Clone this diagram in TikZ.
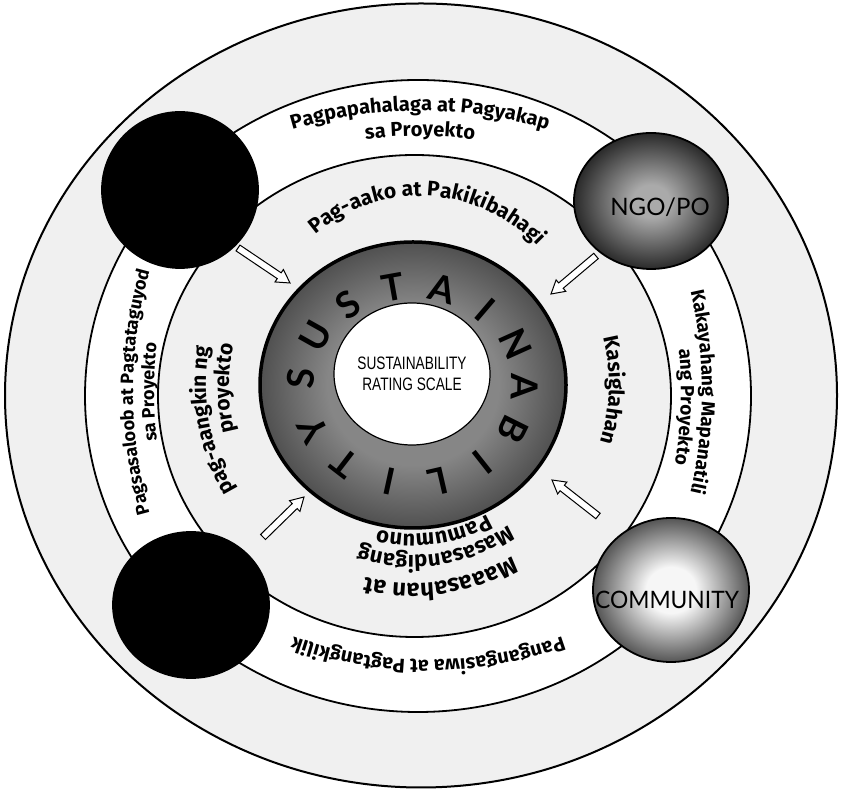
\documentclass[tikz,border=0pt]{standalone}
\usepackage{fontspec}
\setmainfont{Liberation Sans}
\newfontfamily\curvefont{Fira Sans}
\newfontfamily\gillfont{Lato}
\usetikzlibrary{calc,decorations.text,shapes.geometric}
\definecolor{bgfill}{HTML}{F0F0F0}
\definecolor{ngoin}{HTML}{AAAAAA}
\definecolor{ngoout}{HTML}{2A2A2A}
\definecolor{comin}{HTML}{F6F6F6}
\definecolor{comout}{HTML}{555555}
\definecolor{diskin}{HTML}{868686}
\definecolor{diskout}{HTML}{505050}
\pgfdeclareradialshading{ngoshade}{\pgfpoint{0bp}{0bp}}{color(0bp)=(ngoin); color(6bp)=(ngoin); color(25bp)=(ngoout); color(50bp)=(ngoout)}
\pgfdeclareradialshading{comshade}{\pgfpoint{0bp}{0bp}}{color(0bp)=(comin); color(8bp)=(comin); color(25bp)=(comout); color(50bp)=(comout)}
\pgfdeclareradialshading{diskshade}{\pgfpoint{0bp}{0bp}}{color(0bp)=(diskin); color(14bp)=(diskin); color(25bp)=(diskout); color(50bp)=(diskout)}
\newcommand\outerfont{\curvefont\bfseries\fontsize{20}{20}\selectfont}
\newcommand\sidefont{\curvefont\bfseries\fontsize{18}{18}\selectfont}
\newcommand\rightfont{\curvefont\bfseries\fontsize{19}{19}\selectfont}
\newcommand\innerfont{\curvefont\bfseries\fontsize{21}{21}\selectfont}
\newcommand\midfont{\curvefont\bfseries\fontsize{22}{22}\selectfont}
\newcommand\bigfont{\curvefont\bfseries\fontsize{24}{24}\selectfont}
\newcommand\hollowarr[2]{%
  \coordinate (hb) at ($(#2)!13pt!(#1)$);
  \draw[arrowbody] ($(#1)!3.5pt!90:(#2)$) -- ($(hb)!3.5pt!90:(#2)$) -- ($(hb)!7.5pt!90:(#2)$)
    -- (#2) -- ($(hb)!7.5pt!-90:(#2)$) -- ($(hb)!3.5pt!-90:(#2)$) -- ($(#1)!3.5pt!-90:(#2)$) -- cycle;}
\begin{document}
\begin{tikzpicture}[x=1pt,y=1pt,
  bandline/.style={line width=1.8pt},
  ball/.style={ellipse, draw=black, line width=1.8pt, inner sep=0pt},
  arrowbody/.style={draw=black, line width=1pt, fill=white, line join=miter},
  ringletter/.style={font=\gillfont\bfseries\fontsize{37}{37}\selectfont, inner sep=0pt},
  balltext/.style={font=\gillfont\fontsize{24}{24}\selectfont, inner sep=0pt},
  curvetext/.style={decorate, decoration={text along path, text align=center, text={#1}}}]
\useasboundingbox (0,0) rectangle (842,791);
\fill[white] (0,0) rectangle (842,791);
% rings
\coordinate (bigc) at (421,395.5);
\draw[line width=2pt, fill=bgfill] (bigc) ellipse [x radius=416pt, y radius=392pt];
\coordinate (bandc) at (418,395);
\draw[bandline, fill=white] (bandc) ellipse [x radius=333pt, y radius=316pt];
\coordinate (innerc) at (414.5,395);
\draw[bandline, fill=bgfill] (innerc) ellipse [x radius=256.5pt, y radius=241pt];
% centres for curved text
\coordinate (ctop) at (420,230);
\coordinate (cleft) at (583,399);
\coordinate (cright) at (255,399);
\coordinate (cbot) at (428,529);
\coordinate (core) at (413,406);
\coordinate (ctopin) at (420,433);
% outer band texts
\path[curvetext={|\outerfont|Pagpapahalaga at Pagyakap}] (ctop) ++(135:450pt) arc[start angle=135, end angle=45, radius=450pt];
\path[curvetext={|\outerfont|sa Proyekto}] (ctop) ++(135:425pt) arc[start angle=135, end angle=45, radius=425pt];
\path[curvetext={|\sidefont|Pagsasaloob at Pagtataguyod}] (cleft) ++(218:450pt) arc[start angle=218, end angle=142, radius=450pt];
\path[curvetext={|\sidefont|sa Proyekto}] (cleft) ++(218:429pt) arc[start angle=218, end angle=142, radius=429pt];
\path[curvetext={|\rightfont|Kakayahang Mapanatili}] (cright) ++(38:447pt) arc[start angle=38, end angle=-38, radius=447pt];
\path[curvetext={|\rightfont|ang Proyekto}] (cright) ++(36:426pt) arc[start angle=36, end angle=-40, radius=426pt];
\path[curvetext={|\outerfont|Pangangasiwa at Pagtangkilik}] (cbot) ++(-35:398pt) arc[start angle=-35, end angle=-145, radius=398pt];
% central disk
\node[ball, line width=3.5pt, shading=diskshade, minimum width=306pt, minimum height=286pt] (disk) at (core) {};
\node[ball, line width=1.2pt, fill=white, minimum width=156pt, minimum height=142pt] (scale) at (412,417) {};
\node[font=\fontsize{18}{21}\selectfont, align=center, xscale=0.76] (scaletext) at (scale) {SUSTAINABILITY\\RATING SCALE};
\foreach \l [count=\i] in {S,U,S,T,A,I,N,A,B,I,L,I,T,Y} {
  \pgfmathsetmacro\a{176-25.3*(\i-1)}
  \node[ringletter, rotate=\a-90] (ring\i) at ($(core)+({112*cos(\a)},{99*sin(\a)})$) {\l};
}
% inner ring texts
\path[curvetext={|\innerfont|Pag-aako at Pakikibahagi}] (ctopin) ++(167:162pt) arc[start angle=167, end angle=7, radius=162pt];
\path[curvetext={|\innerfont|Kasiglahan}] (core) ++(60:196pt) arc[start angle=60, end angle=-63, radius=196pt];
\path[curvetext={|\innerfont|pag-aangkin ng}] (core) ++(250:207pt) arc[start angle=250, end angle=130, radius=207pt];
\path[curvetext={|\innerfont|proyekto}] (core) ++(241:184pt) arc[start angle=241, end angle=121, radius=184pt];
\path[curvetext={|\midfont|Pamumuno}] (core) ++(-22:149pt) arc[start angle=-22, end angle=-142, radius=149pt];
\path[curvetext={|\midfont|Masasandigang}] (core) ++(-22:170pt) arc[start angle=-22, end angle=-142, radius=170pt];
\path[curvetext={|\bigfont|Maaasahan at}] (core) ++(-22:198pt) arc[start angle=-22, end angle=-142, radius=198pt];
% stakeholder spheres
\node[ball, fill=black, minimum width=156pt, minimum height=156pt] (lgu) at (180,601) {};
\node[ball, fill=black, minimum width=156pt, minimum height=146pt] (bl) at (191,186) {};
\node[ball, shading=ngoshade, minimum width=154pt, minimum height=136pt] (ngo) at (651,590) {};
\node[balltext] (ngotext) at (660,584) {NGO/PO};
\node[ball, shading=comshade, minimum width=156pt, minimum height=144pt] (com) at (671,201) {};
\node[balltext, xscale=0.95] (comtext) at (667,191) {COMMUNITY};
% arrows
\coordinate (a1s) at (238,543); \coordinate (a1e) at (290,508);
\coordinate (a2s) at (596,535); \coordinate (a2e) at (551,497);
\coordinate (a3s) at (263,254); \coordinate (a3e) at (304,294);
\coordinate (a4s) at (598,275); \coordinate (a4e) at (552,311);
\hollowarr{a1s}{a1e}
\hollowarr{a2s}{a2e}
\hollowarr{a3s}{a3e}
\hollowarr{a4s}{a4e}
\end{tikzpicture}
\end{document}
